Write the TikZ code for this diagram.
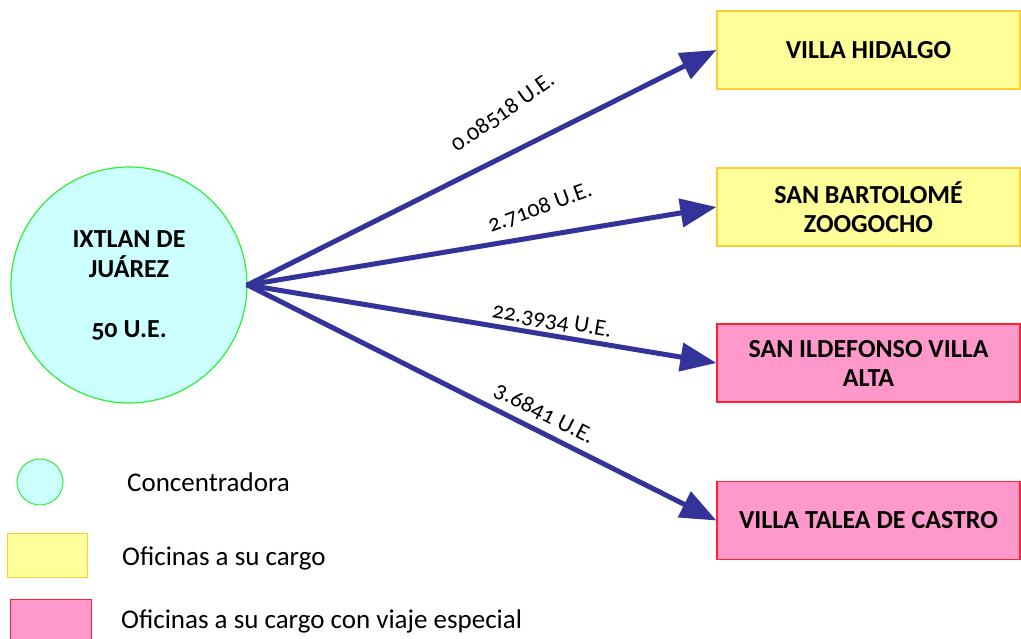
\documentclass[tikz,border=0pt]{standalone}
\usepackage{fontspec}
\setmainfont{Carlito}[Numbers=OldStyle]
\usetikzlibrary{arrows.meta}
\definecolor{arrowblue}{HTML}{333399}
\definecolor{hubfill}{HTML}{CCFFFF}
\definecolor{hubdraw}{HTML}{33EE33}
\definecolor{yelfill}{HTML}{FFFF99}
\definecolor{yeldraw}{HTML}{FFCC33}
\definecolor{pinkfill}{HTML}{FF99CC}
\definecolor{pinkdraw}{HTML}{FF2233}
\begin{document}
\begin{tikzpicture}[x=1pt,y=-1pt,
  hubstyle/.style={circle,draw=hubdraw,fill=hubfill,line width=1.2pt,minimum size=236pt,inner sep=0pt,
    align=center,font=\fontsize{26}{30}\selectfont\bfseries},
  yelbox/.style={rectangle,draw=yeldraw,fill=yelfill,line width=1.2pt,minimum width=303pt,minimum height=78pt,
    align=center,font=\fontsize{26}{29}\selectfont\bfseries,inner sep=0pt},
  pinkbox/.style={yelbox,draw=pinkdraw,fill=pinkfill},
  flow/.style={draw=arrowblue,line width=5pt,-{Triangle[length=36pt,width=28pt]},shorten <=-1pt},
  flowlabel/.style={font=\fontsize{23.5}{26}\selectfont,inner sep=0pt},
  legendtext/.style={font=\fontsize{27}{30}\selectfont,anchor=west,inner sep=0pt}]
\useasboundingbox (0,0) rectangle (1021,639);
\fill[white] (0,0) rectangle (1021,639);

\node[hubstyle] (hub) at (129,285) {IXTLAN DE\\JUÁREZ\\[30pt]50 U.E.};

\node[yelbox] (b1) at (868.5,50) {VILLA HIDALGO};
\node[yelbox] (b2) at (868.5,207) {SAN BARTOLOMÉ\\ZOOGOCHO};
\node[pinkbox] (b3) at (868.5,363) {SAN ILDEFONSO VILLA\\ALTA};
\node[pinkbox] (b4) at (868.5,520.5) {VILLA TALEA DE CASTRO};

\draw[flow] (hub.east) -- (b1.west);
\draw[flow] (hub.east) -- (b2.west);
\draw[flow] (hub.east) -- (b3.west);
\draw[flow] (hub.east) -- (b4.west);

\node[flowlabel,rotate=35] (l1) at (503,113) {0.08518 U.E.};
\node[flowlabel,rotate=20] (l2) at (540,208) {2.7108 U.E.};
\node[flowlabel,rotate=-9.4] (l3) at (552,321) {22.3934 U.E.};
\node[flowlabel,rotate=-27] (l4) at (544,414) {3.6841 U.E.};

\node[circle,draw=hubdraw,fill=hubfill,line width=1pt,minimum size=46pt,inner sep=0pt] (lgc) at (40,482) {};
\node[rectangle,draw=yeldraw,fill=yelfill,line width=1pt,minimum width=80pt,minimum height=44pt,inner sep=0pt] (lgy) at (47,555) {};
\node[rectangle,draw=pinkdraw,fill=pinkfill,line width=1pt,minimum width=81pt,minimum height=44pt,inner sep=0pt] (lgp) at (50.5,621) {};

\node[legendtext] (t1) at (127,482) {Concentradora};
\node[legendtext] (t2) at (122,558) {Oficinas a su cargo};
\node[legendtext] (t3) at (121,621) {Oficinas a su cargo con viaje especial};
\end{tikzpicture}
\end{document}
